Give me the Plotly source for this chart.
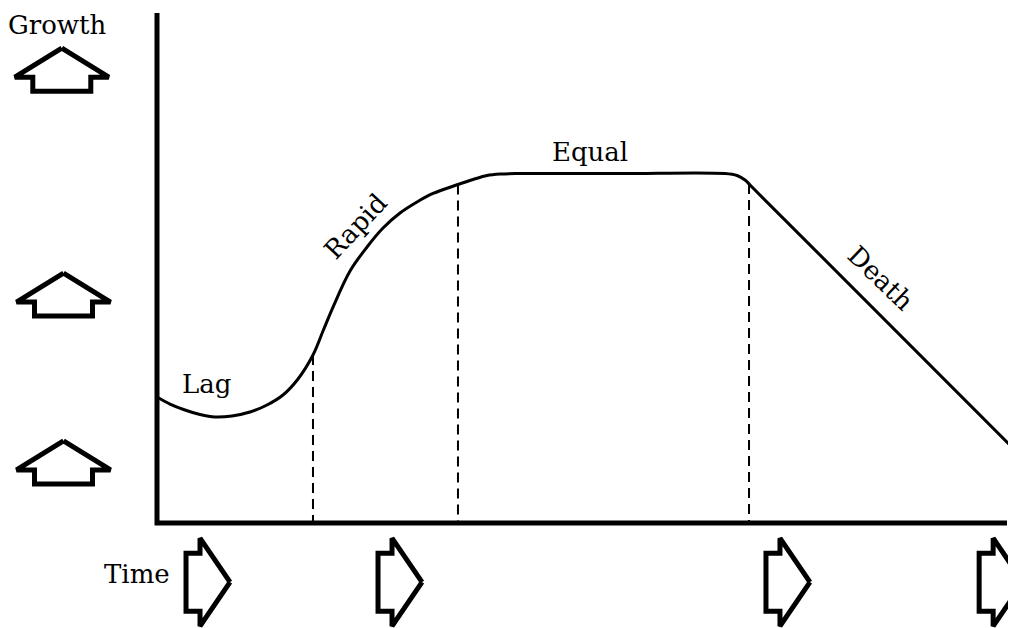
import numpy as np
import plotly.graph_objects as go

# ---------------- data (time / growth units) ----------------
time = [0.0, 1.53, 3.29, 5.06, 6.82, 8.82, 10.94, 12.94, 14.82, 16.59,
        18.35, 19.53, 20.71, 22.71, 24.71, 26.59, 28.59, 30.59, 32.47, 35.41,
        37.18, 38.82, 40.35, 42.71, 54.47, 66.82, 68.24, 69.18, 70.0, 100.35]
growth = [24.71, 23.33, 22.16, 21.27, 20.78, 20.98, 21.76, 23.14, 25.10, 28.24,
          32.94, 37.64, 42.35, 49.41, 54.12, 57.84, 60.78, 62.94, 64.61, 66.37,
          67.35, 68.14, 68.43, 68.53, 68.53, 68.53, 68.14, 67.25, 65.88, 15.29]

phase_bounds = [18.35, 35.41, 69.65]          # dashed separators
phase_names = ["Lag", "Rapid", "Equal", "Death"]
phase_label_t = [5.88, 23.4, 50.9, 85.1]
phase_label_g = [27.3, 58.2, 72.7, 48.0]
phase_label_angle = [0, -47, 0, 44]

axis_titles = ["Growth", "Time"]
axis_title_t = [-11.76, -2.35]
axis_title_g = [97.6, -10.0]

up_arrow_t = [-11.2, -11.0, -11.0]      # centre of each up arrow
up_arrow_g = [93.1, 49.0, 16.1]         # tip of each up arrow
right_arrow_t = [8.59, 31.18, 76.82, 101.9]  # tip of each right arrow
right_arrow_g = [-11.6, -11.6, -11.6, -11.6]

T_MAX, G_MAX = 100.0, 100.0

# ---------------- scale helpers ----------------
W, H = 1016, 628          # window size
OFF = 8                   # page body margin around the figure
FW, FH = W - OFF, H - OFF
X0, PX_T = 157, 8.5       # window pixel of t=0, pixels per time unit
Y0, PX_G = 523, 5.1       # window pixel of g=0, pixels per growth unit
x_range = [(OFF - X0) / PX_T, (W - X0) / PX_T]
y_range = [(Y0 - H) / PX_G, (Y0 - OFF) / PX_G]

def dt(px):
    return px / PX_T

def dg(px):
    return px / PX_G

FONT = "DejaVu Serif"
fig = go.Figure()

# axes
fig.add_trace(go.Scatter(x=[0, 0, T_MAX], y=[G_MAX, 0, 0], mode="lines",
                         line=dict(color="black", width=5), hoverinfo="skip"))

# growth curve
fig.add_trace(go.Scatter(x=time, y=growth, mode="lines",
                         line=dict(color="black", width=3, shape="spline", smoothing=1.0),
                         hoverinfo="skip"))

# dashed separators
for b in phase_bounds:
    gb = float(np.interp(b, time, growth))
    fig.add_trace(go.Scatter(x=[b, b], y=[gb, 0], mode="lines",
                             line=dict(color="black", width=2, dash="10px,6px"),
                             hoverinfo="skip"))

# up arrows (outline)
for t, g in zip(up_arrow_t, up_arrow_g):
    ox = [0, 47, 29, 29, -29, -29, -47, 0]
    oy = [0, 29, 29, 43, 43, 29, 29, 0]
    fig.add_trace(go.Scatter(x=[t + dt(a) for a in ox], y=[g - dg(b) for b in oy],
                             mode="lines", line=dict(color="black", width=5),
                             hoverinfo="skip"))

# right arrows (outline)
for t, g in zip(right_arrow_t, right_arrow_g):
    ox = [0, -30, -30, -44, -44, -30, -30, 0]
    oy = [0, -44, -29, -29, 29, 29, 44, 0]
    fig.add_trace(go.Scatter(x=[t + dt(a) for a in ox], y=[g - dg(b) for b in oy],
                             mode="lines", line=dict(color="black", width=5),
                             hoverinfo="skip"))

# labels
for name, t, g, ang in zip(phase_names, phase_label_t, phase_label_g, phase_label_angle):
    fig.add_annotation(x=t, y=g, text=name, showarrow=False, textangle=ang,
                       font=dict(family=FONT, size=26, color="black"),
                       xanchor="center", yanchor="middle")
for name, t, g in zip(axis_titles, axis_title_t, axis_title_g):
    fig.add_annotation(x=t, y=g, text=name, showarrow=False,
                       font=dict(family=FONT, size=26, color="black"),
                       xanchor="center", yanchor="middle")

fig.update_layout(width=FW, height=FH, margin=dict(l=0, r=0, t=0, b=0),
                  paper_bgcolor="white", plot_bgcolor="white", showlegend=False,
                  xaxis=dict(range=x_range, visible=False, fixedrange=True),
                  yaxis=dict(range=y_range, visible=False, fixedrange=True))

fig.write_html("out.html")
